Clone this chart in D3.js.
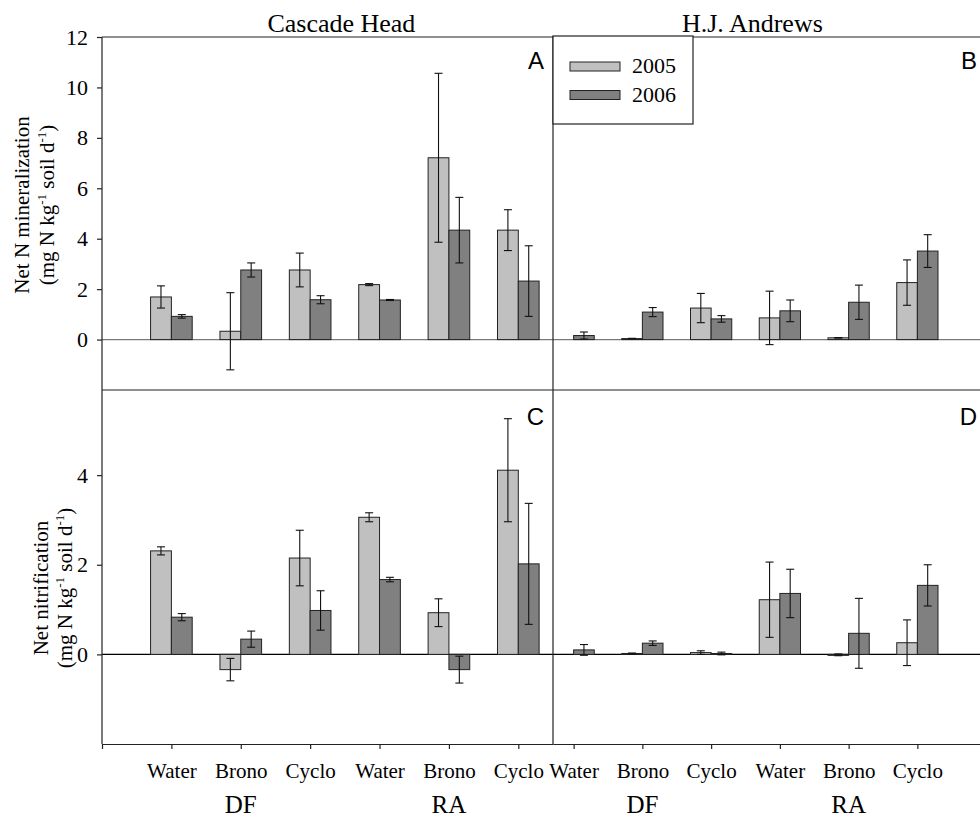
<!DOCTYPE html>
<html>
<head>
<meta charset="utf-8">
<script src="https://cdn.jsdelivr.net/npm/d3@7"></script>
<style>
  body { margin: 0; background: #fff; }
  svg { display: block; }
</style>
</head>
<body>
<div id="chart"></div>
<script>
// Data
const treatments = ["Water", "Brono", "Cyclo", "Water", "Brono", "Cyclo"];
const stands = ["DF", "RA"];
const years = ["2005", "2006"];
const sites = ["Cascade Head", "H.J. Andrews"];
const panelLetters = ["A", "B", "C", "D"];
const minTicks = [0, 2, 4, 6, 8, 10, 12];
const nitTicks = [0, 2, 4];

// Net N mineralization
const chMin2005 = [1.69, 0.33, 2.76, 2.18, 7.21, 4.34];
const chMin2005Err = [0.44, 1.53, 0.67, 0.04, 3.35, 0.81];
const chMin2006 = [0.92, 2.76, 1.58, 1.57, 4.34, 2.32];
const chMin2006Err = [0.07, 0.28, 0.16, 0.02, 1.30, 1.40];
const hjaMin2005 = [0, 0.04, 1.25, 0.86, 0.07, 2.26];
const hjaMin2005Err = [0, 0.01, 0.58, 1.06, 0.01, 0.90];
const hjaMin2006 = [0.16, 1.09, 0.82, 1.14, 1.48, 3.51];
const hjaMin2006Err = [0.14, 0.18, 0.13, 0.43, 0.68, 0.65];

// Net nitrification
const chNit2005 = [2.31, -0.34, 2.15, 3.06, 0.93, 4.11];
const chNit2005Err = [0.09, 0.25, 0.62, 0.10, 0.31, 1.15];
const chNit2006 = [0.83, 0.34, 0.98, 1.67, -0.34, 2.02];
const chNit2006Err = [0.08, 0.18, 0.44, 0.05, 0.30, 1.35];
const hjaNit2005 = [0, 0.02, 0.04, 1.22, -0.01, 0.26];
const hjaNit2005Err = [0, 0.01, 0.04, 0.84, 0.02, 0.51];
const hjaNit2006 = [0.10, 0.25, 0.02, 1.36, 0.47, 1.54];
const hjaNit2006Err = [0.12, 0.05, 0.03, 0.54, 0.78, 0.46];

const colors = { "2005": "#c0c0c0", "2006": "#808080" };
const serif = "'Liberation Serif', 'Times New Roman', Times, serif";
const sans = "'Liberation Sans', Arial, sans-serif";

// Setup
const width = 980, height = 817;
const plotLeft = 102, plotMid = 553, plotRight = 993;
const plotTop = 37, plotSplit = 390, plotBottom = 744;

const svg = d3.select("#chart").append("svg")
  .attr("width", width)
  .attr("height", height)
  .style("font-family", serif);

// x scales: category index 1..6
const xLeft = d3.scaleLinear().domain([0, 6.5]).range([plotLeft, plotMid]);
const xRight = d3.scaleLinear().domain([0.7, 7.1]).range([plotMid, plotRight]);

// y scales
const yMin = d3.scaleLinear().domain([-2, 12]).range([plotSplit, plotTop]);
const yNit = d3.scaleLinear().domain([-2, 5.9]).range([plotBottom, plotSplit]);

function rows(v05, e05, v06, e06) {
  const out = [];
  treatments.forEach((t, i) => {
    out.push({ i: i + 1, year: "2005", value: v05[i], err: e05[i] });
    out.push({ i: i + 1, year: "2006", value: v06[i], err: e06[i] });
  });
  return out;
}

function drawBars(data, x, y, zeroColor) {
  const g = svg.append("g");
  const bw = (x(1) - x(0)) * 0.3;

  g.append("line")
    .attr("x1", x.range()[0]).attr("x2", Math.min(x.range()[1], width))
    .attr("y1", y(0)).attr("y2", y(0))
    .attr("stroke", zeroColor).attr("stroke-width", 1.2);

  const shown = data.filter(d => d.value !== 0);

  g.selectAll("rect")
    .data(shown)
    .join("rect")
    .attr("x", d => d.year === "2005" ? x(d.i) - bw : x(d.i))
    .attr("y", d => y(Math.max(0, d.value)))
    .attr("width", bw)
    .attr("height", d => Math.max(1, Math.abs(y(d.value) - y(0))))
    .attr("fill", d => colors[d.year])
    .attr("stroke", "#222")
    .attr("stroke-width", 1);

  const eb = g.selectAll("g.err")
    .data(shown.filter(d => d.err > 0))
    .join("g")
    .attr("class", "err")
    .attr("stroke", "#111")
    .attr("stroke-width", 1.1);

  const cx = d => (d.year === "2005" ? x(d.i) - bw / 2 : x(d.i) + bw / 2);
  eb.append("line")
    .attr("x1", cx).attr("x2", cx)
    .attr("y1", d => y(d.value + d.err))
    .attr("y2", d => y(d.value - d.err));
  eb.append("line")
    .attr("x1", d => cx(d) - 4).attr("x2", d => cx(d) + 4)
    .attr("y1", d => y(d.value + d.err)).attr("y2", d => y(d.value + d.err));
  eb.append("line")
    .attr("x1", d => cx(d) - 4).attr("x2", d => cx(d) + 4)
    .attr("y1", d => y(d.value - d.err)).attr("y2", d => y(d.value - d.err));
}

drawBars(rows(chMin2005, chMin2005Err, chMin2006, chMin2006Err), xLeft, yMin, "#7a7a7a");
drawBars(rows(hjaMin2005, hjaMin2005Err, hjaMin2006, hjaMin2006Err), xRight, yMin, "#7a7a7a");
drawBars(rows(chNit2005, chNit2005Err, chNit2006, chNit2006Err), xLeft, yNit, "#000");
drawBars(rows(hjaNit2005, hjaNit2005Err, hjaNit2006, hjaNit2006Err), xRight, yNit, "#000");

// Frame lines
const frame = svg.append("g").attr("stroke", "#222").attr("stroke-width", 1.2);
frame.append("line").attr("x1", plotLeft).attr("x2", width).attr("y1", plotTop).attr("y2", plotTop);
frame.append("line").attr("x1", plotLeft).attr("x2", width).attr("y1", plotSplit).attr("y2", plotSplit);
frame.append("line").attr("x1", plotMid).attr("x2", plotMid).attr("y1", plotTop - 1).attr("y2", plotBottom);

// Axis styling
function styleAxis(sel, size) {
  sel.attr("font-family", serif).attr("font-size", size);
  sel.selectAll("text")
    .style("font-family", serif)
    .style("font-size", size + "px")
    .attr("fill", "#000");
  sel.selectAll("line, path").attr("stroke", "#222").attr("stroke-width", 1.2);
}

// Y axes
svg.append("g")
  .attr("transform", `translate(${plotLeft},0)`)
  .call(d3.axisLeft(yMin).tickValues(minTicks).tickSize(5).tickPadding(9).tickSizeOuter(0))
  .call(g => g.select(".domain").remove())
  .call(styleAxis, 22);

svg.append("g")
  .attr("transform", `translate(${plotLeft},0)`)
  .call(d3.axisLeft(yNit).tickValues(nitTicks).tickSize(5).tickPadding(9).tickSizeOuter(0))
  .call(g => g.select(".domain").remove())
  .call(styleAxis, 22);

svg.append("line")
  .attr("x1", plotLeft).attr("x2", plotLeft).attr("y1", plotTop).attr("y2", plotBottom)
  .attr("stroke", "#222").attr("stroke-width", 1.2);

// X axes
const xFmt = i => treatments[i - 1] || "";
svg.append("g")
  .attr("transform", `translate(0,${plotBottom})`)
  .call(d3.axisBottom(xLeft).tickValues(d3.range(0, 7)).tickFormat(xFmt).tickSize(5).tickPadding(14).tickSizeOuter(0))
  .call(styleAxis, 21);

svg.append("g")
  .attr("transform", `translate(0,${plotBottom})`)
  .call(d3.axisBottom(xRight).tickValues(d3.range(1, 7)).tickFormat(xFmt).tickSize(5).tickPadding(14).tickSizeOuter(0))
  .call(styleAxis, 21);

// Stand labels under Brono columns
[xLeft, xRight].forEach(x => {
  stands.forEach((s, k) => {
    svg.append("text")
      .style("font-family", serif)
      .attr("x", x(2 + k * 3))
      .attr("y", 813)
      .attr("text-anchor", "middle")
      .style("font-size", "25px")
      .text(s);
  });
});

// Site titles
svg.append("text").style("font-family", serif)
  .attr("x", xLeft(3.45)).attr("y", 32)
  .attr("text-anchor", "middle").style("font-size", "26px")
  .text(sites[0]);
svg.append("text").style("font-family", serif)
  .attr("x", xRight(3.6)).attr("y", 32)
  .attr("text-anchor", "middle").style("font-size", "26px")
  .text(sites[1]);

// Panel letters (right ones pulled in so they stay inside the page)
const letterPos = [[plotMid - 9, 69], [width - 3, 69], [plotMid - 9, 425], [width - 3, 425]];
panelLetters.forEach((l, k) => {
  svg.append("text")
    .attr("x", letterPos[k][0]).attr("y", letterPos[k][1])
    .attr("text-anchor", "end")
    .style("font-family", sans)
    .style("font-size", "24px")
    .text(l);
});

// Y titles
function yTitle(cx, cy, first, x2) {
  const g = svg.append("g").style("font-family", serif);
  g.append("text")
    .attr("transform", `translate(${cx},${cy}) rotate(-90)`)
    .attr("text-anchor", "middle").style("font-size", "21px")
    .text(first);
  const t = g.append("text")
    .attr("transform", `translate(${x2},${cy}) rotate(-90)`)
    .attr("text-anchor", "middle").style("font-size", "21px");
  t.append("tspan").text("(mg N kg");
  t.append("tspan").attr("dy", -8).style("font-size", "13px").text("-1");
  t.append("tspan").attr("dy", 8).text(" soil d");
  t.append("tspan").attr("dy", -8).style("font-size", "13px").text("-1");
  t.append("tspan").attr("dy", 8).text(")");
}
yTitle(29, 205, "Net N mineralization", 54);
yTitle(48, 588, "Net nitrification", 72);

// Legend
const legend = svg.append("g");
legend.append("rect")
  .attr("x", plotMid).attr("y", 36).attr("width", 140).attr("height", 88)
  .attr("fill", "#fff").attr("stroke", "#222").attr("stroke-width", 1.2);
years.forEach((yr, k) => {
  legend.append("rect")
    .attr("x", 570).attr("y", 62 + k * 28.5).attr("width", 50).attr("height", 9)
    .attr("fill", colors[yr]).attr("stroke", "#222").attr("stroke-width", 1);
  legend.append("text").style("font-family", serif)
    .attr("x", 632).attr("y", 73 + k * 28.5)
    .style("font-size", "22px")
    .text(yr);
});
</script>
</body>
</html>
